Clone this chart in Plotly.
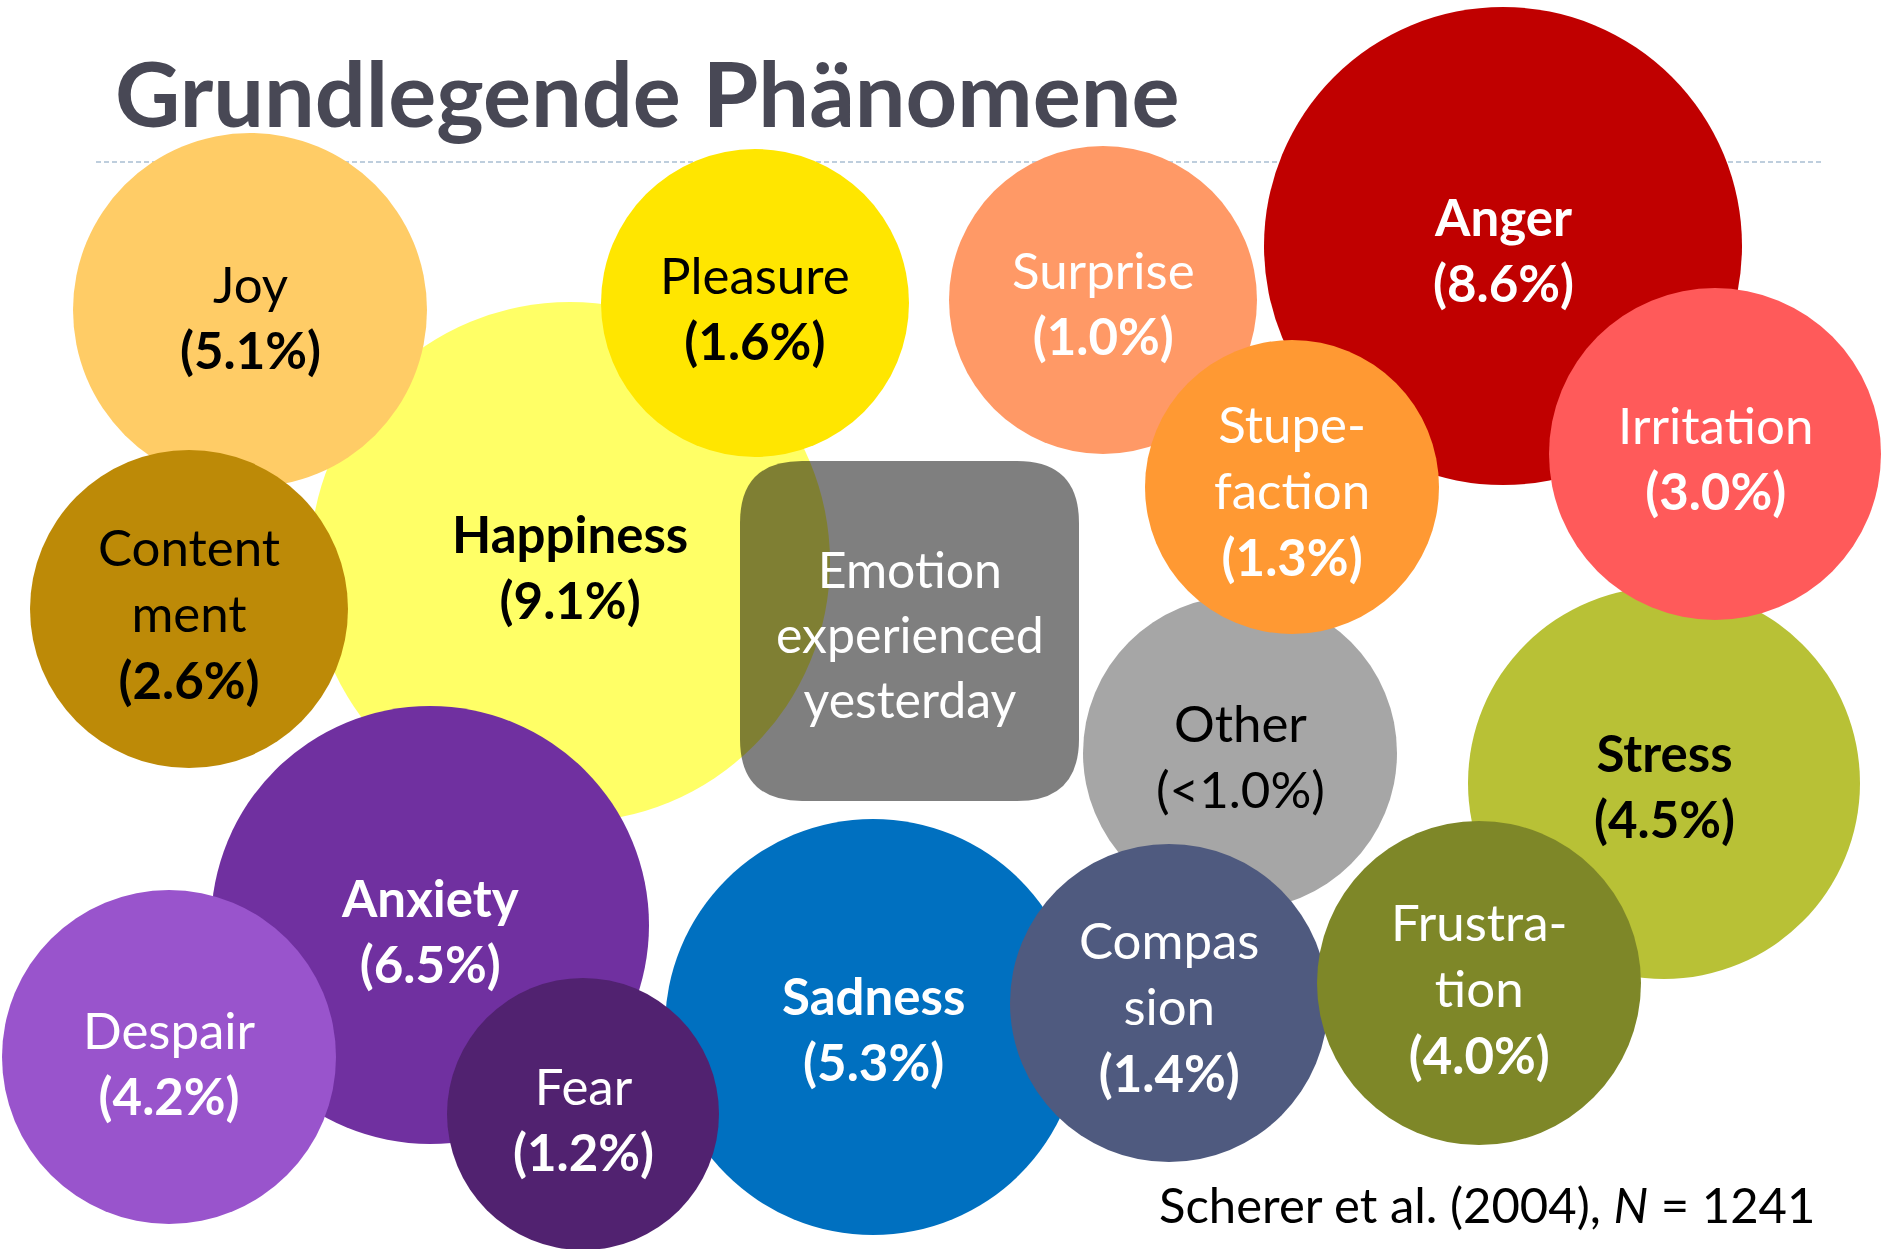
import plotly.graph_objects as go

# ---- data ----
emotions = ["Happiness", "Joy", "Content<br>ment", "Pleasure", "Anxiety", "Despair", "Sadness", "Fear",
            "Anger", "Surprise", "Stress", "Irritation", "Other", "Stupe-<br>faction", "Compas<br>sion",
            "Frustra-<br>tion"]
pct_labels = ["9.1%", "5.1%", "2.6%", "1.6%", "6.5%", "4.2%", "5.3%", "1.2%",
              "8.6%", "1.0%", "4.5%", "3.0%", "<1.0%", "1.3%", "1.4%", "4.0%"]
center_label = "Emotion<br>experienced<br>yesterday"
title_text = "Grundlegende Phänomene"
source_text = "Scherer et al. (2004), <i>N</i> = 1241"

# ---- layout (pixel positions) ----
cx = [570, 250, 189, 755, 430, 169, 873, 583, 1503, 1103, 1664, 1715, 1240, 1292, 1169, 1479]
cy = [562, 310, 609, 303, 925, 1057, 1027, 1114, 246, 300, 783, 454, 753, 487, 1003, 983]
rad = [260, 177, 159, 154, 219, 167, 208, 136, 239, 154, 196, 166, 157, 147, 159, 162]
label_y = [566, 316, 613, 307, 930, 1062, 1028, 1118, 249, 302, 785, 457, 755, 490, 1006, 988]

# ---- styles ----
fills = ["#FFFF66", "#FFCC66", "#BD8A07", "#FFE600", "#7030A0", "#9954CC", "#0070C0", "#512270",
         "#C00000", "#FF9966", "#B8C136", "#FF5A5A", "#A6A6A6", "#FF9933", "#4F5A7F", "#7E8728"]
txt_colors = ["black", "black", "black", "black", "white", "white", "white", "white",
              "white", "white", "black", "white", "black", "white", "white", "white"]
bold_name = [True, False, False, False, True, False, True, False,
             True, False, True, False, False, False, False, False]
bold_pct = [True] * 12 + [False] + [True] * 3

W, H = 1884, 1249
FONT = "Lato"

fig = go.Figure()
fig.add_trace(go.Scatter(x=cx, y=cy, mode="markers", marker=dict(size=1, opacity=0),
                         hoverinfo="skip", showlegend=False))

shapes = []
# dashed rule under title
shapes.append(dict(type="line", xref="x", yref="y", x0=96, x1=1824, y0=162, y1=162,
                   line=dict(color="#A9BFD2", width=1.5, dash="5px,3px"), layer="below"))

box = dict(x0=740, x1=1079, y0=461, y1=801, r=62)


def rounded_path(x0, x1, y0, y1, r):
    return (f"M {x0 + r} {y0} L {x1 - r} {y0} Q {x1} {y0} {x1} {y0 + r} "
            f"L {x1} {y1 - r} Q {x1} {y1} {x1 - r} {y1} L {x0 + r} {y1} "
            f"Q {x0} {y1} {x0} {y1 - r} L {x0} {y0 + r} Q {x0} {y0} {x0 + r} {y0} Z")


for i in range(len(emotions)):
    shapes.append(dict(type="circle", xref="x", yref="y",
                       x0=cx[i] - rad[i], x1=cx[i] + rad[i],
                       y0=cy[i] - rad[i], y1=cy[i] + rad[i],
                       fillcolor=fills[i], line=dict(width=0), layer="above"))
    if i == 0:
        shapes.append(dict(type="path", xref="x", yref="y",
                           path=rounded_path(box["x0"], box["x1"], box["y0"], box["y1"], box["r"]),
                           fillcolor="rgba(0,0,0,0.5)", line=dict(width=0), layer="above"))

annotations = []
for i in range(len(emotions)):
    name = f"<b>{emotions[i]}</b>" if bold_name[i] else emotions[i]
    pct = f"({pct_labels[i]})".replace("<", "&lt;")
    pct = f"<b>{pct}</b>" if bold_pct[i] else pct
    annotations.append(dict(x=cx[i], y=label_y[i], xref="x", yref="y", text=f"{name}<br>{pct}",
                            showarrow=False, xanchor="center", yanchor="middle", align="center",
                            font=dict(family=FONT, size=51, color=txt_colors[i])))

annotations.append(dict(x=(box["x0"] + box["x1"]) / 2, y=634, xref="x", yref="y", text=center_label,
                        showarrow=False, xanchor="center", yanchor="middle", align="center",
                        font=dict(family=FONT, size=50, color="white")))
annotations.append(dict(x=113, y=92, xref="x", yref="y", text=f"<b>{title_text}</b>",
                        showarrow=False, xanchor="left", yanchor="middle",
                        font=dict(family=FONT, size=90, color="#484855")))
annotations.append(dict(x=1817, y=1204, xref="x", yref="y", text=source_text,
                        showarrow=False, xanchor="right", yanchor="middle",
                        font=dict(family=FONT, size=49, color="black")))

fig.update_layout(
    width=W, height=H, margin=dict(l=0, r=0, t=0, b=0),
    paper_bgcolor="white", plot_bgcolor="white",
    xaxis=dict(range=[0, W], visible=False, fixedrange=True),
    yaxis=dict(range=[H, 0], visible=False, fixedrange=True),
    shapes=shapes, annotations=annotations, showlegend=False,
)

fig.write_html("out.html", config={"displayModeBar": False},
               post_script="document.body.style.margin='0';document.body.style.overflow='hidden';")
